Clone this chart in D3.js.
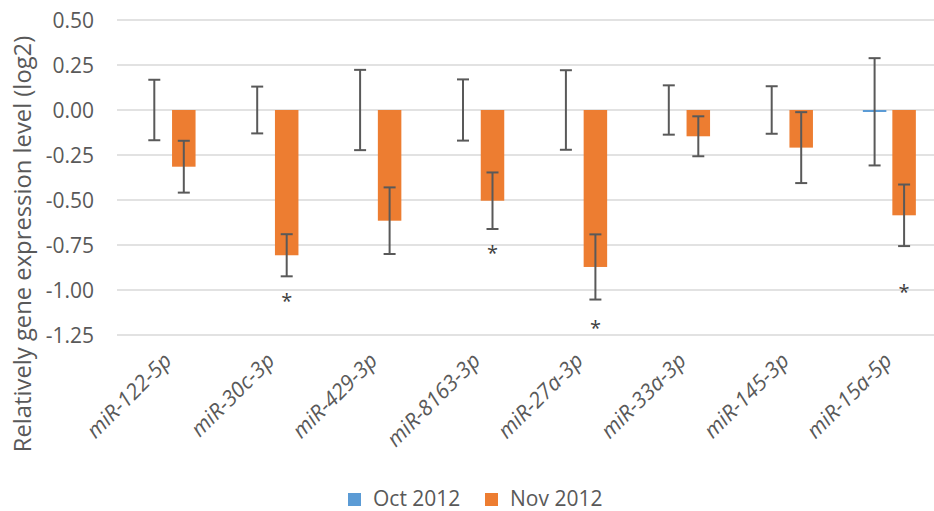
<!DOCTYPE html>
<html>
<head>
<meta charset="utf-8">
<script src="https://cdn.jsdelivr.net/npm/d3@7"></script>
<style>
  html, body { margin: 0; padding: 0; background: #fff; }
  svg { display: block; font-family: "Open Sans", "Noto Sans", sans-serif; }
</style>
</head>
<body>
<svg id="chart" width="934" height="511"></svg>
<script>
// microRNA names along the x axis
const categories = ["miR-122-5p", "miR-30c-3p", "miR-429-3p", "miR-8163-3p",
                    "miR-27a-3p", "miR-33a-3p", "miR-145-3p", "miR-15a-5p"];
const seriesNames = ["Oct 2012", "Nov 2012"];

// Relative expression (log2) and error bar half-widths
const octValues = [0, 0, 0, 0, 0, 0, 0, -0.01];
const octErrors = [0.168, 0.130, 0.223, 0.170, 0.221, 0.137, 0.132, 0.298];
const novValues = [-0.315, -0.807, -0.615, -0.504, -0.872, -0.146, -0.209, -0.585];
const novErrors = [0.144, 0.117, 0.185, 0.157, 0.181, 0.111, 0.197, 0.171];

// Significance markers (Nov 2012) and the level at which each star sits
const significant = [false, true, false, true, true, false, false, true];
const starLevels  = [null, -1.03, null, -0.765, -1.18, null, null, -0.98];

const yTicks = [0.5, 0.25, 0, -0.25, -0.5, -0.75, -1.0, -1.25];

const colors = { "Oct 2012": "#5B9BD5", "Nov 2012": "#ED7D31" };

const svg = d3.select("#chart");

const x0 = d3.scaleBand().domain(categories).range([117.6, 940.8]).padding(0);
const inner = 53;
const x1 = d3.scaleBand().domain(seriesNames).range([0, inner]).paddingInner(0.2034).paddingOuter(0);
const y = d3.scaleLinear().domain([-1.25, 0.5]).range([335, 20]);

const fmt = d3.formatLocale({ decimal: ".", thousands: ",", grouping: [3], currency: ["", ""], minus: "-" }).format(".2f");

// gridlines
svg.append("g").selectAll("line").data(yTicks).join("line")
  .attr("x1", 117).attr("x2", 934)
  .attr("y1", d => y(d)).attr("y2", d => y(d))
  .attr("stroke", "#d9d9d9").attr("stroke-width", 1.5);

// y tick labels
svg.append("g").selectAll("text").data(yTicks).join("text")
  .attr("x", 94).attr("y", d => y(d)).attr("dy", "0.36em")
  .attr("text-anchor", "end")
  .attr("font-size", 21).attr("fill", "#595959")
  .text(d => fmt(d));

// y axis title
svg.append("text")
  .attr("transform", "translate(31,244) rotate(-90)")
  .attr("text-anchor", "middle")
  .attr("font-size", 23.8).attr("fill", "#595959")
  .text("Relatively gene expression level (log2)");

const rows = [];
categories.forEach((c, i) => {
  rows.push({ cat: c, series: "Oct 2012", value: octValues[i], err: octErrors[i] });
  rows.push({ cat: c, series: "Nov 2012", value: novValues[i], err: novErrors[i] });
});
const off = (x0.bandwidth() - inner) / 2;
const cx = d => x0(d.cat) + off + x1(d.series) + x1.bandwidth() / 2;

// bars
svg.append("g").selectAll("rect").data(rows).join("rect")
  .attr("x", d => x0(d.cat) + off + x1(d.series))
  .attr("width", x1.bandwidth())
  .attr("y", d => y(Math.max(0, d.value)))
  .attr("height", d => Math.max(Math.abs(y(d.value) - y(0)), d.value !== 0 ? 2 : 0))
  .attr("fill", d => colors[d.series]);

// error bars
const eb = svg.append("g").attr("stroke", "#595959").attr("stroke-width", 2).attr("fill", "none");
rows.forEach(d => {
  const c = cx(d), top = y(d.value + d.err), bot = y(d.value - d.err);
  eb.append("line").attr("x1", c).attr("x2", c).attr("y1", top).attr("y2", bot);
  eb.append("line").attr("x1", c - 6).attr("x2", c + 6).attr("y1", top).attr("y2", top);
  eb.append("line").attr("x1", c - 6).attr("x2", c + 6).attr("y1", bot).attr("y2", bot);
});

// significance stars
svg.append("g").selectAll("text")
  .data(categories.map((c, i) => ({ cat: c, series: "Nov 2012", sig: significant[i], lvl: starLevels[i] })).filter(d => d.sig))
  .join("text")
  .attr("x", d => cx(d)).attr("y", d => y(d.lvl)).attr("dy", "0.62em")
  .attr("text-anchor", "middle").attr("font-size", 20).attr("fill", "#404040")
  .text("*");

// category labels
svg.append("g").selectAll("text").data(categories).join("text")
  .attr("transform", d => "translate(" + (x0(d) + x0.bandwidth() / 2 + 4) + ",362) rotate(-45)")
  .attr("text-anchor", "end")
  .attr("font-size", 21.5).attr("font-style", "italic").attr("fill", "#595959")
  .text(d => d);

// legend
const lg = svg.append("g");
const legendX = [348, 485];
seriesNames.forEach((s, i) => {
  lg.append("rect").attr("x", legendX[i]).attr("y", 493).attr("width", 13).attr("height", 13).attr("fill", colors[s]);
  lg.append("text").attr("x", legendX[i] + 25).attr("y", 506)
    .attr("font-size", 21).attr("fill", "#595959").text(s);
});
</script>
</body>
</html>
